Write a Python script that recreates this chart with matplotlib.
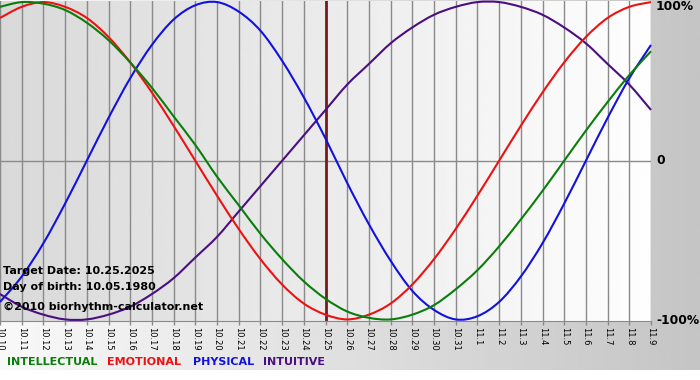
"""
Biorhythm chart — 10.10 to 11.9, target date 10.25.2025
"""

import numpy as np
import matplotlib
matplotlib.use("Agg")
import matplotlib.pyplot as plt
from matplotlib.path import Path
from matplotlib.patches import PathPatch

# ── Data (one per day) ────────────────────────────────────────────────────────
days = ["10.10", "10.11", "10.12", "10.13", "10.14", "10.15", "10.16", "10.17",
        "10.18", "10.19", "10.20", "10.21", "10.22", "10.23", "10.24", "10.25",
        "10.26", "10.27", "10.28", "10.29", "10.30", "10.31", "11.1", "11.2",
        "11.3", "11.4", "11.5", "11.6", "11.7", "11.8", "11.9"]

intellectual = [0.97, 1.00, 0.99, 0.95, 0.87, 0.76, 0.62, 0.46, 0.28, 0.10,
                -0.10, -0.28, -0.46, -0.62, -0.76, -0.87, -0.95, -0.99, -1.00,
                -0.97, -0.91, -0.81, -0.69, -0.54, -0.37, -0.19, 0.00, 0.19,
                0.37, 0.54, 0.69]
emotional = [0.90, 0.97, 1.00, 0.97, 0.90, 0.78, 0.62, 0.43, 0.22, 0.00,
             -0.22, -0.43, -0.62, -0.78, -0.90, -0.97, -1.00, -0.97, -0.90,
             -0.78, -0.62, -0.43, -0.22, 0.00, 0.22, 0.43, 0.62, 0.78, 0.90,
             0.97, 1.00]
physical = [-0.89, -0.73, -0.52, -0.27, 0.00, 0.27, 0.52, 0.73, 0.89, 0.98,
            1.00, 0.94, 0.82, 0.63, 0.40, 0.14, -0.14, -0.40, -0.63, -0.82,
            -0.94, -1.00, -0.98, -0.89, -0.73, -0.52, -0.27, 0.00, 0.27, 0.52,
            0.73]
intuitive = [-0.84, -0.92, -0.97, -1.00, -1.00, -0.97, -0.92, -0.84, -0.74,
             -0.61, -0.48, -0.32, -0.16, 0.00, 0.16, 0.32, 0.48, 0.61, 0.74,
             0.84, 0.92, 0.97, 1.00, 1.00, 0.97, 0.92, 0.84, 0.74, 0.61, 0.48,
             0.32]

target_day = "10.25"
info_lines = ["Target Date: 10.25.2025", "Day of birth: 10.05.1980",
              "©2010 biorhythm-calculator.net"]
series_names = ["INTELLECTUAL", "EMOTIONAL", "PHYSICAL", "INTUITIVE"]
series_colors = ["#0a7d0a", "#ee1111", "#1212dd", "#4a0f80"]

W, H = 700, 380
PX_R, PX_B = 651, 321        # plot area right / bottom in pixels


def smooth_path(xs, ys):
    """Catmull-Rom curve through the daily points, as bezier segments."""
    pts = np.column_stack([xs, ys]).astype(float)
    ext = np.vstack([pts[0], pts, pts[-1]])
    verts = [pts[0]]
    codes = [Path.MOVETO]
    for i in range(1, len(ext) - 2):
        p0, p1, p2, p3 = ext[i - 1], ext[i], ext[i + 1], ext[i + 2]
        verts += [p1 + (p2 - p0) / 6, p2 - (p3 - p1) / 6, p2]
        codes += [Path.CURVE4] * 3
    return Path(verts, codes)


fig = plt.figure(figsize=(W / 100, H / 100), dpi=100)

# ── Outer background gradient (light left → gray right), white strip below ───
bg = fig.add_axes([0, 0, 1, 1], zorder=0)
grad = np.linspace(0.975, 0.77, 256)[None, :]
bg.imshow(grad, cmap="gray", vmin=0, vmax=1, aspect="auto",
          extent=[0, 1, 10 / H, 1])
bg.set_xlim(0, 1)
bg.set_ylim(0, 1)
bg.set_axis_off()

# ── Plot area ─────────────────────────────────────────────────────────────────
ax = fig.add_axes([0, 1 - PX_B / H, PX_R / W, PX_B / H - 0.5 / H], zorder=1)
x = np.arange(len(days))
ax.set_xlim(0, len(days) - 1)
ax.set_ylim(-1.01, 1.01)

pgrad = np.linspace(0.85, 0.995, 256)[None, :]
ax.imshow(pgrad, cmap="gray", vmin=0, vmax=1, aspect="auto",
          extent=[0, len(days) - 1, -1.01, 1.01], zorder=0)

for xi in x:
    ax.axvline(xi, color="#8a8a8a", lw=1.0, zorder=1)
ax.axhline(0, color="#8a8a8a", lw=1.0, zorder=1)

ax.axvline(days.index(target_day), color="#7a1a1a", lw=2.0, zorder=2)

for vals, col in zip([intuitive, physical, emotional, intellectual],
                     [series_colors[3], series_colors[2],
                      series_colors[1], series_colors[0]]):
    ax.add_patch(PathPatch(smooth_path(x, vals), facecolor="none",
                           edgecolor=col, lw=1.5, zorder=3, clip_on=False))

for s in ["top", "left", "right"]:
    ax.spines[s].set_visible(False)
ax.spines["bottom"].set_color("#8a8a8a")
ax.set_yticks([])
ax.set_xticks(x)
ax.set_xticklabels(days, rotation=270, fontsize=6.0, va="top", ha="center")
ax.tick_params(axis="x", length=3, width=1, color="#8a8a8a", pad=1)

# info text (bottom-left inside plot)
for i, line in enumerate(info_lines):
    fig.text(3 / W, 1 - (271 + i * 16 + (4 if i == 2 else 0)) / H, line,
             fontsize=8.0, fontweight="bold", color="black",
             va="center", ha="left", zorder=5)

# right-hand percent labels
for lab, py in [("100%", 6), ("0", 161), ("-100%", 321)]:
    fig.text(656 / W, 1 - py / H, lab, fontsize=8.8, fontweight="bold",
             va="center", ha="left", zorder=5)

# legend words
for name, col, px in zip(series_names, series_colors, [7, 107, 193, 263]):
    fig.text(px / W, 1 - 362 / H, name, fontsize=8.0, fontweight="bold",
             color=col, va="center", ha="left", zorder=5)

fig.savefig("out.png", dpi=100)
